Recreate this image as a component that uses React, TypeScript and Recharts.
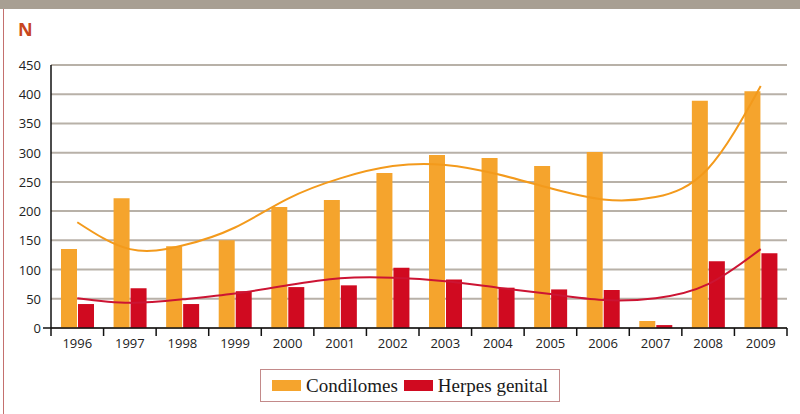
import React from 'react';
import {
  ComposedChart,
  Bar,
  Line,
  XAxis,
  YAxis,
  CartesianGrid,
  Legend,
} from 'recharts';

const years = ['1996', '1997', '1998', '1999', '2000', '2001', '2002', '2003', '2004', '2005', '2006', '2007', '2008', '2009'];
const condilomes = [135, 222, 140, 150, 207, 219, 265, 296, 291, 277, 301, 12, 389, 405];
const herpes = [41, 68, 41, 63, 70, 73, 103, 83, 69, 66, 65, 5, 114, 128];
// trend lines at each year
const condilomesTrend = [181, 135, 141, 172, 221, 256, 277, 279, 263, 239, 220, 224, 273, 414];
const herpesTrend = [51, 43, 49, 59, 73, 85, 86, 80, 69, 58, 48, 51, 75, 135];
const yTicks = [0, 50, 100, 150, 200, 250, 300, 350, 400, 450];

const ORANGE = '#f5a42d';
const RED = '#d00a20';
const AXIS_FONT = '"Open Sans", "DejaVu Sans Condensed", sans-serif';

const data = years.map((y, i) => ({
  year: y,
  condilomes: condilomes[i],
  herpes: herpes[i],
  condilomesTrend: condilomesTrend[i],
  herpesTrend: herpesTrend[i],
}));

const PLOT_LEFT = 51;
const PLOT_RIGHT = 787;
const BAND = (PLOT_RIGHT - PLOT_LEFT) / years.length;

function XTick(props: any) {
  const { x, y, payload, index } = props;
  const left = x - BAND / 2;
  return (
    <g>
      <line x1={left} x2={left} y1={y} y2={y + 8} stroke="#111" strokeWidth={1.5} />
      {index === years.length - 1 && (
        <line x1={x + BAND / 2} x2={x + BAND / 2} y1={y} y2={y + 8} stroke="#111" strokeWidth={1.5} />
      )}
      <text x={x} y={y + 20} textAnchor="middle" fontSize={13} fill="#222" fontFamily={AXIS_FONT}>
        {payload.value}
      </text>
    </g>
  );
}

function YTick(props: any) {
  const { x, y, payload } = props;
  return (
    <g>
      {payload.value === 0 && (
        <line x1={x + 2} x2={x + 10} y1={y} y2={y} stroke="#111" strokeWidth={1.5} />
      )}
      <text x={x} y={y + 5} textAnchor="end" fontSize={13} fill="#222" fontFamily={AXIS_FONT}>
        {payload.value}
      </text>
    </g>
  );
}

function LegendBox() {
  const item = (color: string, label: string) => (
    <span style={{ display: 'inline-flex', alignItems: 'center', marginRight: 6 }}>
      <span style={{ display: 'inline-block', width: 29, height: 11, background: color, marginRight: 5 }} />
      <span>{label}</span>
    </span>
  );
  return (
    <div
      style={{
        width: 300,
        height: 33,
        boxSizing: 'border-box',
        border: '1.5px solid #c38a8a',
        background: '#fff',
        display: 'flex',
        alignItems: 'center',
        paddingLeft: 11,
        fontFamily: '"Liberation Serif", "DejaVu Serif", serif',
        fontSize: 19,
        color: '#1a1a1a',
      }}
    >
      {item(ORANGE, 'Condilomes')}
      {item(RED, 'Herpes genital')}
    </div>
  );
}

export default function App() {
  return (
    <div style={{ position: 'fixed', left: 0, top: 0, width: 800, height: 414, background: '#fff', overflow: 'hidden' }}>
      <div style={{ position: 'absolute', left: 0, top: 0, width: 800, height: 9, background: '#a89f93' }} />
      <div style={{ position: 'absolute', left: 3, top: 9, width: 1, height: 405, background: '#c4706e' }} />
      <div
        style={{
          position: 'absolute',
          left: 18,
          top: 17,
          fontFamily: '"Open Sans", sans-serif',
          fontWeight: 700,
          fontSize: 18,
          color: '#c8461e',
        }}
      >
        N
      </div>
      <ComposedChart
        width={800}
        height={414}
        data={data}
        margin={{ top: 65, right: 13, bottom: 23, left: 0 }}
        barGap={1}
        style={{ position: 'absolute', left: 0, top: 0 }}
      >
        <CartesianGrid vertical={false} stroke="#b8b1a8" strokeWidth={2} />
        <XAxis
          dataKey="year"
          height={30}
          tickSize={0}
          tickMargin={0}
          tickLine={false}
          axisLine={{ stroke: '#111', strokeWidth: 1.5 }}
          tick={<XTick />}
          interval={0}
        />
        <YAxis
          width={51}
          domain={[0, 450]}
          ticks={yTicks}
          tickSize={8}
          tickMargin={2}
          tickLine={false}
          axisLine={{ stroke: '#111', strokeWidth: 1.5 }}
          tick={<YTick />}
          interval={0}
        />
        <Bar dataKey="condilomes" name="Condilomes" fill={ORANGE} barSize={16} isAnimationActive={false} />
        <Bar dataKey="herpes" name="Herpes genital" fill={RED} barSize={16} isAnimationActive={false} />
        <Line
          type="natural"
          dataKey="condilomesTrend"
          stroke="#f39a1c"
          strokeWidth={2}
          dot={false}
          activeDot={false}
          legendType="none"
          isAnimationActive={false}
        />
        <Line
          type="natural"
          dataKey="herpesTrend"
          stroke="#cc1433"
          strokeWidth={2}
          dot={false}
          activeDot={false}
          legendType="none"
          isAnimationActive={false}
        />
        <Legend
          content={<LegendBox />}
          wrapperStyle={{ position: 'absolute', left: 260, top: 369, width: 300, bottom: 'auto' }}
        />
      </ComposedChart>
    </div>
  );
}
